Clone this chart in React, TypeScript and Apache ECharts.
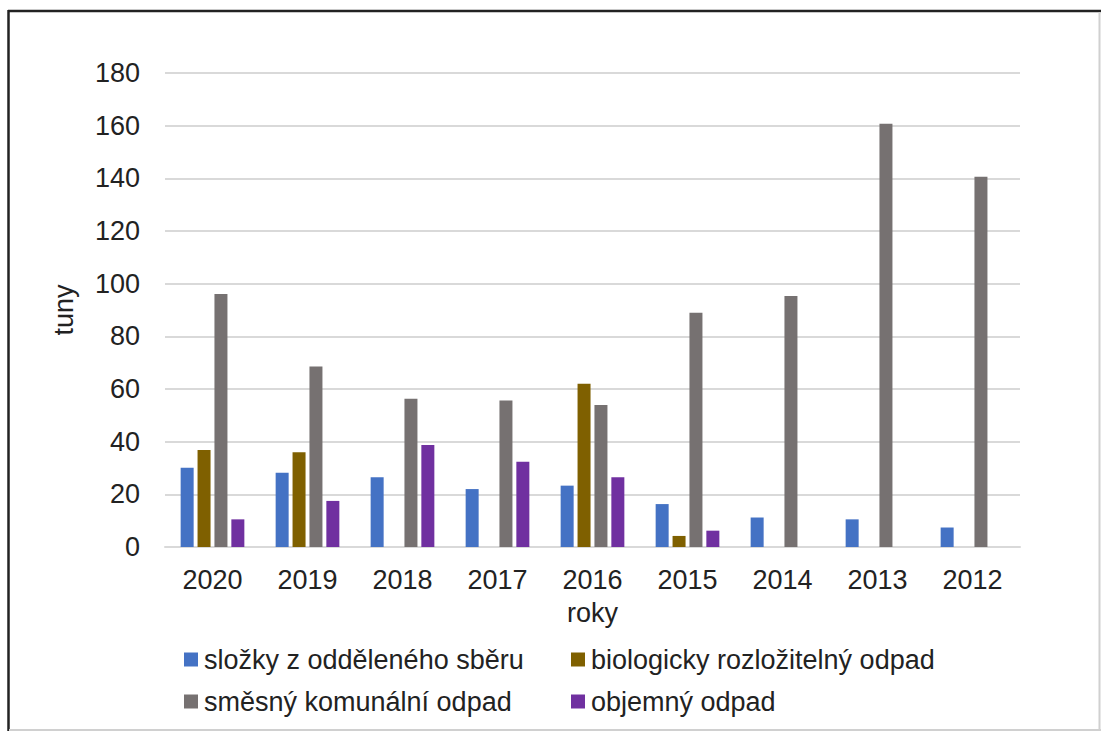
import React, { useEffect, useRef } from "react";
import * as echarts from "echarts";

const categories = ["2020", "2019", "2018", "2017", "2016", "2015", "2014", "2013", "2012"];
const seriesNames = [
  "složky z odděleného sběru",
  "biologicky rozložitelný odpad",
  "směsný komunální odpad",
  "objemný odpad",
];
const slozky = [30.1, 28.2, 26.5, 22.0, 23.3, 16.3, 11.2, 10.5, 7.4];
const biologicky = [36.8, 36.0, null, null, 62.0, 4.2, null, null, null];
const smesny = [96.1, 68.5, 56.3, 55.6, 53.9, 89.0, 95.3, 160.7, 140.6];
const objemny = [10.5, 17.5, 38.7, 32.4, 26.5, 6.2, null, null, null];
const yTicks = { min: 0, max: 180, interval: 20 };
const colors = ["#4472C4", "#7F6000", "#767171", "#7030A0"];

const FONT = "'Liberation Sans', Arial, sans-serif";
const FS = 27;

export default function App() {
  const ref = useRef<HTMLDivElement>(null);
  useEffect(() => {
    if (!ref.current) return;
    const chart = echarts.init(ref.current, undefined, { renderer: "svg" });
    const values = [slozky, biologicky, smesny, objemny];
    const legendPos = [
      { left: 184, top: 646 },
      { left: 571, top: 646 },
      { left: 184, top: 688 },
      { left: 571, top: 688 },
    ];
    chart.setOption({
      animation: false,
      backgroundColor: "#ffffff",
      textStyle: { fontFamily: FONT },
      grid: { left: 165, right: 81, top: 73, bottom: 184, containLabel: false },
      legend: seriesNames.map((n, i) => ({
        data: [n],
        left: legendPos[i].left,
        top: legendPos[i].top,
        icon: "rect",
        itemWidth: 14,
        itemHeight: 14,
        itemGap: 0,
        padding: 0,
        selectedMode: false,
        textStyle: { fontFamily: FONT, fontSize: FS, color: "#222222", padding: [0, 0, 0, 1] },
      })),
      xAxis: {
        type: "category",
        data: categories,
        name: "roky",
        nameLocation: "middle",
        nameGap: 52,
        nameTextStyle: { fontFamily: FONT, fontSize: FS, color: "#222222" },
        axisLine: { show: true, lineStyle: { color: "#D9D9D9", width: 2 } },
        axisTick: { show: false },
        axisLabel: { fontFamily: FONT, fontSize: FS, color: "#222222", margin: 19 },
      },
      yAxis: {
        type: "value",
        min: yTicks.min,
        max: yTicks.max,
        interval: yTicks.interval,
        name: "tuny",
        nameLocation: "middle",
        nameGap: 88,
        nameTextStyle: { fontFamily: FONT, fontSize: FS, color: "#222222" },
        axisLine: { show: false },
        axisTick: { show: false },
        axisLabel: { fontFamily: FONT, fontSize: FS, color: "#222222", margin: 25 },
        splitLine: { lineStyle: { color: "#D9D9D9", width: 2 } },
      },
      series: seriesNames.map((n, i) => ({
        name: n,
        type: "bar",
        data: values[i],
        barWidth: 13,
        barGap: "30%",
        itemStyle: { color: colors[i] },
      })),
      graphic: [
        { type: "line", shape: { x1: 8, y1: 11, x2: 1101, y2: 11 }, style: { stroke: "#222222", lineWidth: 2.5 } },
        { type: "line", shape: { x1: 8.5, y1: 10, x2: 8.5, y2: 731 }, style: { stroke: "#222222", lineWidth: 2.5 } },
        { type: "line", shape: { x1: 1099.5, y1: 12, x2: 1099.5, y2: 731 }, style: { stroke: "#D0D0D0", lineWidth: 2 } },
        { type: "line", shape: { x1: 9, y1: 730, x2: 1101, y2: 730 }, style: { stroke: "#D0D0D0", lineWidth: 2 } },
      ],
    });
    return () => chart.dispose();
  }, []);
  return (
    <div
      ref={ref}
      style={{ position: "absolute", left: 0, top: 0, width: 1101, height: 731 }}
    />
  );
}
